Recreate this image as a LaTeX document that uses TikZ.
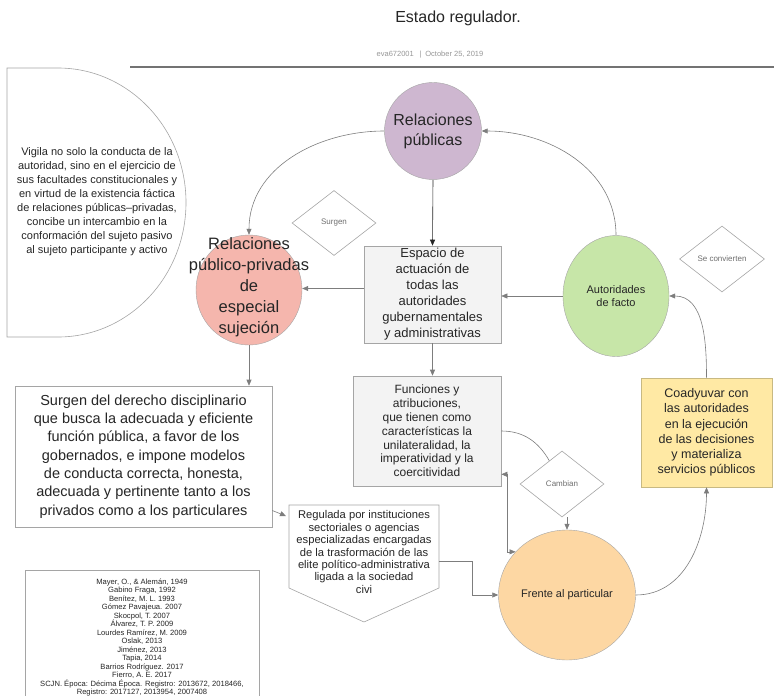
\documentclass[tikz,border=0pt]{standalone}
\usepackage{fontspec}
\setmainfont{Liberation Sans}
\usetikzlibrary{arrows.meta, positioning, calc, shapes.geometric}
\definecolor{erText}{RGB}{38,38,38}
\definecolor{erLine}{RGB}{125,125,125}
\definecolor{erBorder}{RGB}{165,165,165}
\definecolor{erBox}{RGB}{243,243,243}
\definecolor{erMeta}{RGB}{150,150,150}
\definecolor{erCond}{RGB}{110,110,110}
\definecolor{erRule}{RGB}{115,115,115}
\definecolor{erPurple}{RGB}{206,183,208}
\definecolor{erRed}{RGB}{245,182,173}
\definecolor{erGreen}{RGB}{199,230,168}
\definecolor{erOrange}{RGB}{253,215,163}
\definecolor{erYellow}{RGB}{255,233,164}
\definecolor{erTan}{RGB}{200,185,130}

\begin{document}
\begin{tikzpicture}[x=1pt, y=-1pt,
    every node/.style={text=erText},
    bubble/.style={ellipse, draw=erBorder, line width=0.4pt, inner sep=0pt,
                   align=center},
    panel/.style={rectangle, draw=erBorder, line width=0.6pt, fill=erBox,
                  align=center, inner sep=2pt},
    plain/.style={rectangle, draw=erBorder, line width=0.6pt, fill=white,
                  align=center, inner sep=2pt},
    cond/.style={diamond, draw=erBorder, line width=0.6pt, fill=white,
                 text=erCond, inner sep=0pt, font=\fontsize{8}{9}\selectfont},
    arr/.style={-{Triangle[length=6pt,width=5pt]}, line width=0.6pt, draw=erLine},
    arrdark/.style={-{Triangle[length=6pt,width=5pt]}, line width=0.6pt, draw=erText},
    arrboth/.style={{Triangle[length=6pt,width=5pt]}-{Triangle[length=6pt,width=5pt]},
                    line width=0.6pt, draw=erLine},
    link/.style={line width=0.6pt, draw=erLine}
]
\useasboundingbox (0,0) rectangle (774,696);

% Heading
\node[font=\fontsize{16}{19}\selectfont] (title) at (458,18) {Estado regulador.};
\node[font=\fontsize{7.5}{9}\selectfont, text=erMeta] (meta) at (430,55)
    {eva672001 \enspace|\enspace October 25, 2019};
\draw[draw=erRule, line width=1.3pt] (130,67) -- (774,67);

% Left half-round note
\draw[draw=erBorder, line width=0.6pt, fill=white] (7,68) -- (58,68)
    arc[start angle=90, end angle=-90, x radius=128pt, y radius=134.5pt]
    -- (7,337) -- cycle;
\node[align=center, font=\fontsize{11}{14}\selectfont] (vig) at (97,202)
    {Vigila no solo la conducta de la\\autoridad, sino en el ejercicio de\\
     sus facultades constitucionales y\\en virtud de la existencia fáctica\\
     de relaciones públicas--privadas,\\concibe un intercambio en la\\
     conformación del sujeto pasivo\\al sujeto participante y activo};

% Round nodes
\node[bubble, circle, fill=erPurple, minimum size=97pt,
      font=\fontsize{16}{20}\selectfont] (rp) at (433,131) {Relaciones\\públicas};
\node[bubble, fill=erRed, minimum width=106pt, minimum height=110pt] (rpp) at (249,290) {};
\node[align=center, font=\fontsize{16.5}{21}\selectfont] (rpptext) at (249,287)
    {Relaciones\\público-privadas\\de\\especial\\sujeción};
\node[bubble, fill=erGreen, minimum width=106pt, minimum height=121pt,
      font=\fontsize{11}{13.3}\selectfont] (af) at (616,296) {Autoridades\\de facto};
\node[bubble, fill=erOrange, minimum width=137pt, minimum height=130pt,
      font=\fontsize{11}{13}\selectfont] (fp) at (567,595) {Frente al particular};

% Decision diamonds
\node[cond, minimum width=84pt, minimum height=65pt] (sg) at (334,223) {Surgen};
\node[cond, minimum width=85pt, minimum height=66pt] (sc) at (722,259) {Se convierten};
\node[cond, minimum width=84pt, minimum height=66pt] (cb) at (562,484) {Cambian};

% Boxes
\node[panel, minimum width=137pt, minimum height=97pt,
      font=\fontsize{13}{16}\selectfont] (esp) at (432.5,294.5)
    {Espacio de\\actuación de\\todas las\\autoridades\\gubernamentales\\y administrativas};
\node[panel, minimum width=148pt, minimum height=110pt,
      font=\fontsize{12}{13.8}\selectfont] (fn) at (427,431)
    {Funciones y\\atribuciones,\\que tienen como\\características la\\
     unilateralidad, la\\imperatividad y la\\coercitividad};
\node[panel, fill=erYellow, draw=erTan, minimum width=131pt, minimum height=109pt,
      font=\fontsize{12.5}{15.3}\selectfont] (co) at (706.5,432.5)
    {Coadyuvar con\\las autoridades\\en la ejecución\\de las decisiones\\
     y materializa\\servicios públicos};
\node[plain, minimum width=257pt, minimum height=141pt,
      font=\fontsize{14.5}{18.3}\selectfont] (sd) at (143.5,456.5)
    {Surgen del derecho disciplinario\\que busca la adecuada y eficiente\\
     función pública, a favor de los\\gobernados, e impone modelos\\
     de conducta correcta, honesta,\\adecuada y pertinente tanto a los\\
     privados como a los particulares};

% Pointed note
\draw[draw=erBorder, line width=0.6pt, fill=white]
    (289,505) -- (439,505) -- (439,588) -- (364,622) -- (289,588) -- cycle;
\node[align=center, minimum width=150pt, font=\fontsize{11.2}{12.4}\selectfont] (reg) at (364,552)
    {Regulada por instituciones\\sectoriales o agencias\\especializadas encargadas\\
     de la trasformación de las\\elite político-administrativa\\ligada a la sociedad\\civi};

% References
\node[plain, anchor=north, minimum width=234pt, minimum height=134pt, inner sep=4pt,
      font=\fontsize{7.6}{8.5}\selectfont] (refs) at (142,570)
    {Mayer, O., \& Alemán, 1949\\Gabino Fraga, 1992\\Benítez, M. L. 1993\\
     Gómez Pavajeua. 2007\\Skocpol, T. 2007\\Álvarez, T. P. 2009\\
     Lourdes Ramírez, M. 2009\\Oslak, 2013\\Jiménez, 2013\\Tapia, 2014\\
     Barrios Rodríguez. 2017\\Fierro, A. E. 2017\\
     SCJN. Época: Décima Época. Registro: 2013672, 2018466,\\
     Registro: 2017127, 2013954, 2007408};

% Connectors
\draw[arr] (rp.west) to[out=180, in=90] (rpp.north);
\draw[arrdark] (rp.south) -- (esp.north);
\draw[arr] (af.north) to[out=90, in=0] (rp.east);
\draw[arr] (af.west) -- (af.west -| esp.east);
\draw[arr] ([yshift=6pt]esp.west) -- ([yshift=6pt]esp.west -| rpp.east);
\draw[arr] (esp.south) -- (esp.south |- fn.north);
\draw[arr] (rpp.south) -- (rpp.south |- sd.north);

\coordinate (regin) at (286,516);
\draw[arr] ([yshift=-54pt]sd.east) -- (regin);
\draw[arr] ([yshift=-9pt]reg.east) -- ++(33,0) |- (fp.west);

\draw[arrboth] ([yshift=12pt]fn.south east) -- ++(6,0) |- (fp.140);
\draw[link] (fn.east) to[out=0, in=120] ($(cb.north)!0.3!(cb.west)$);
\draw[arr] (cb.south -| fp.north) -- (fp.north);

\draw[arr] (fp.east) to[out=0, in=-90] (co.south);
\draw[arr] (co.north) to[out=90, in=0] (af.east);

\end{tikzpicture}
\end{document}
